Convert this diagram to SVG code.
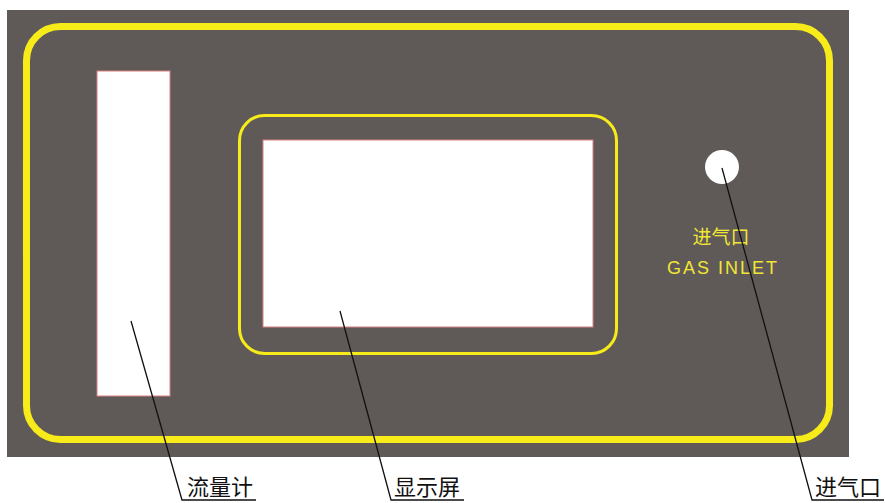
<svg xmlns="http://www.w3.org/2000/svg" width="885" height="503" viewBox="0 0 885 503">
<style>
.yl{fill:none;stroke:#f7ec1a}
.wh{fill:#ffffff;stroke:#d98080;stroke-width:1}
.lbl{font-family:"Noto Sans CJK SC","Noto Sans CJK JP",sans-serif;font-size:22px;fill:#111}
.ylt{font-family:"Liberation Sans","Noto Sans CJK SC",sans-serif;fill:#f2e634}
.ld{fill:none;stroke:#111;stroke-width:1.3}
</style>
<rect width="885" height="503" fill="#ffffff"/>
<g id="panel">
<rect x="7" y="10" width="842" height="447" fill="#5f5a58"/>
<rect class="yl" x="26.5" y="26.5" width="803" height="413" rx="34" stroke-width="7"/>
</g>
<g id="flowmeter"><rect class="wh" x="97" y="71" width="73" height="325"/></g>
<g id="display">
<rect class="yl" x="239.5" y="115.5" width="377" height="238" rx="25" stroke-width="3"/>
<rect class="wh" x="263" y="140" width="330" height="187"/>
</g>
<g id="inlet">
<circle cx="722" cy="167" r="17" fill="#ffffff"/>
<text class="ylt" x="721" y="244" font-size="19" text-anchor="middle">进气口</text>
<text class="ylt" x="723" y="274" font-size="18" text-anchor="middle" letter-spacing="2">GAS INLET</text>
</g>
<g id="connectors">
<polyline class="ld" points="131,321 182,500 256,500"/>
<polyline class="ld" points="340,311 391,500 464,500"/>
<polyline class="ld" points="722,168 812,500 884,500"/>
</g>
<g id="labels">
<text class="lbl" x="187" y="495">流量计</text>
<text class="lbl" x="394" y="495">显示屏</text>
<text class="lbl" x="815" y="495">进气口</text>
</g>
</svg>
